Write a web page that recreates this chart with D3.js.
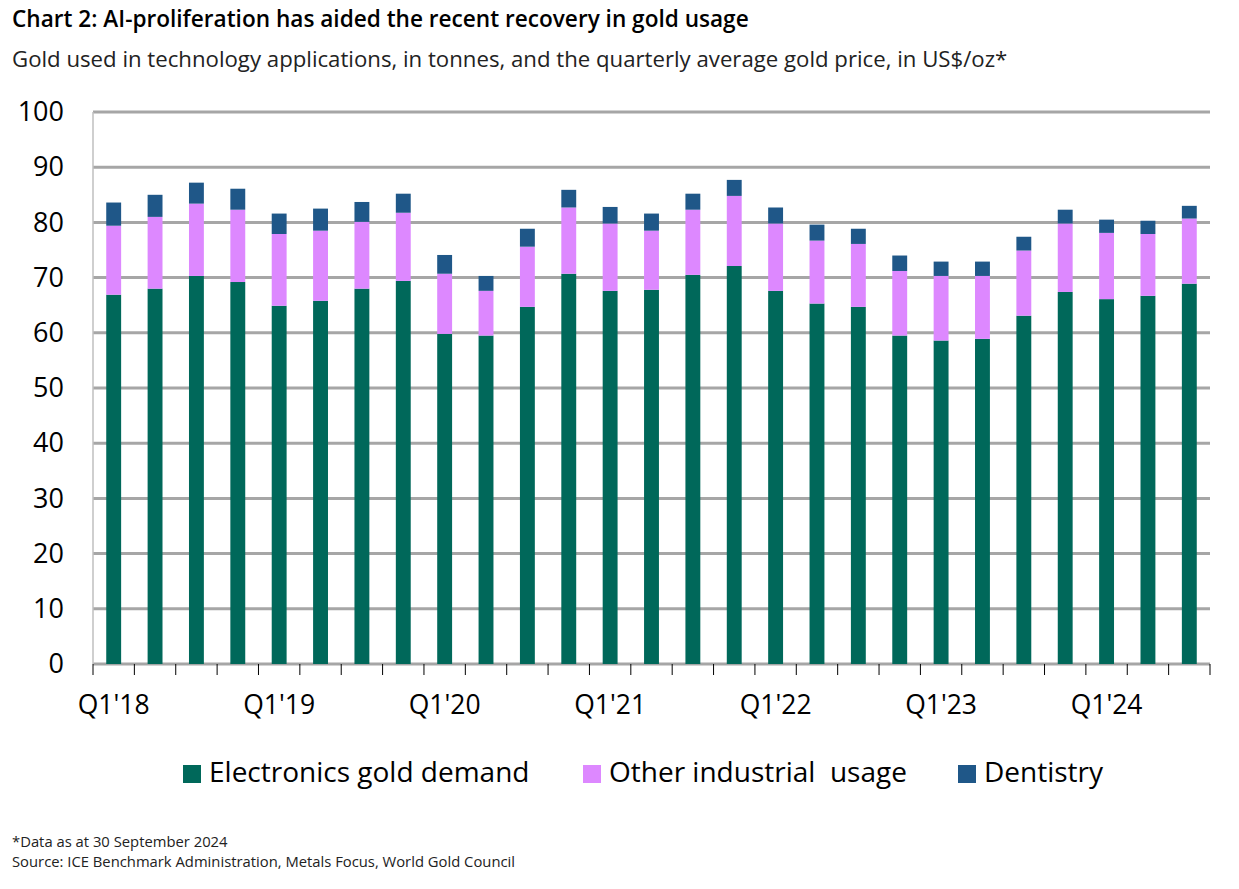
<!DOCTYPE html>
<html><head><meta charset="utf-8">
<script src="https://cdn.jsdelivr.net/npm/d3@7"></script>
<style>body{margin:0;background:#fff;font-family:"Open Sans","Noto Sans",sans-serif;}</style>
</head><body><svg id="c" width="1239" height="889"></svg>
<script>
const quarters = ["Q1'18","Q2'18","Q3'18","Q4'18","Q1'19","Q2'19","Q3'19","Q4'19","Q1'20","Q2'20","Q3'20","Q4'20","Q1'21","Q2'21","Q3'21","Q4'21","Q1'22","Q2'22","Q3'22","Q4'22","Q1'23","Q2'23","Q3'23","Q4'23","Q1'24","Q2'24","Q3'24"];
const electronics = [66.9,68.0,70.3,69.2,64.9,65.8,68.0,69.4,59.8,59.5,64.7,70.7,67.6,67.8,70.5,72.1,67.6,65.3,64.7,59.5,58.6,58.9,63.1,67.4,66.1,66.7,68.9];
const otherIndustrial = [12.5,13.0,13.1,13.1,13.0,12.7,12.1,12.35,10.9,8.1,10.9,12.0,12.2,10.7,11.8,12.7,12.2,11.4,11.4,11.7,11.7,11.4,11.8,12.4,12.0,11.2,11.8];
const dentistry = [4.2,4.0,3.8,3.8,3.7,4.0,3.6,3.45,3.4,2.7,3.25,3.2,3.0,3.1,2.9,2.9,2.9,2.9,2.75,2.8,2.6,2.6,2.5,2.5,2.4,2.4,2.3];
const yTicks = [0,10,20,30,40,50,60,70,80,90,100];
const seriesNames = ["Electronics gold demand","Other industrial  usage","Dentistry"];
const colors = ["#00685A","#DD88FF","#1F5788"];

const svg = d3.select("#c");
const m = {l:93, r:1210, t:112, b:664};
const x = d3.scaleBand().domain(quarters).range([m.l, m.r]).paddingInner(0.64).paddingOuter(0.32);
const y = d3.scaleLinear().domain([0,100]).range([m.b, m.t]);

svg.append("text").attr("x",12).attr("y",27).attr("font-size",22.6).attr("font-weight",600).attr("fill","#000")
  .text("Chart 2: AI-proliferation has aided the recent recovery in gold usage");
svg.append("text").attr("x",12).attr("y",67).attr("font-size",22.2).attr("fill","#222")
  .text("Gold used in technology applications, in tonnes, and the quarterly average gold price, in US$/oz*");

// gridlines
svg.append("g").selectAll("line").data(yTicks).join("line")
  .attr("x1",m.l).attr("x2",m.r).attr("y1",d=>y(d)).attr("y2",d=>y(d))
  .attr("stroke","#A6A6A6").attr("stroke-width",3);
// left axis line
svg.append("line").attr("x1",m.l).attr("x2",m.l).attr("y1",m.t).attr("y2",m.b).attr("stroke","#BFBFBF").attr("stroke-width",1.5);

// y labels
const ya = svg.append("g").attr("transform",`translate(64,0)`)
  .call(d3.axisLeft(y).tickValues(yTicks).tickSize(0).tickPadding(0));
ya.select(".domain").remove();
ya.selectAll("text").attr("font-size",27).attr("fill","#000").attr("font-family","Open Sans, Noto Sans, sans-serif");

// stacked bars
const data = quarters.map((q,i)=>({q, e:electronics[i], o:otherIndustrial[i], d:dentistry[i]}));
const stack = d3.stack().keys(["e","o","d"])(data);
svg.append("g").selectAll("g").data(stack).join("g").attr("fill",(d,i)=>colors[i])
  .selectAll("rect").data(d=>d).join("rect")
  .attr("x",d=>x(d.data.q)).attr("width",x.bandwidth())
  .attr("y",d=>y(d[1])).attr("height",d=>y(d[0])-y(d[1]));

// x ticks at band boundaries
const bounds = d3.range(quarters.length+1).map(i=>m.l + i*(m.r-m.l)/quarters.length);
svg.append("g").selectAll("line").data(bounds).join("line")
  .attr("x1",d=>d).attr("x2",d=>d).attr("y1",m.b).attr("y2",m.b+11)
  .attr("stroke","#000").attr("stroke-width",1);
// x labels
svg.append("g").selectAll("text").data(quarters.filter((q,i)=>i%4===0)).join("text")
  .attr("x",d=>x(d)+x.bandwidth()/2).attr("y",714).attr("text-anchor","middle")
  .attr("font-size",26.5).attr("fill","#000").text(d=>d);

// legend
const legX = [183, 583, 958];
const lg = svg.append("g");
seriesNames.forEach((n,i)=>{
  lg.append("rect").attr("x",legX[i]).attr("y",765).attr("width",18).attr("height",18).attr("fill",colors[i]);
  lg.append("text").attr("x",legX[i]+26).attr("y",782).attr("font-size",28).attr("fill","#000").style("white-space","pre").text(n);
});

svg.append("text").attr("x",12).attr("y",847).attr("font-size",14.8).attr("fill","#222").text("*Data as at 30 September 2024");
svg.append("text").attr("x",12).attr("y",867).attr("font-size",14.8).attr("fill","#222").text("Source: ICE Benchmark Administration, Metals Focus, World Gold Council");
</script></body></html>
